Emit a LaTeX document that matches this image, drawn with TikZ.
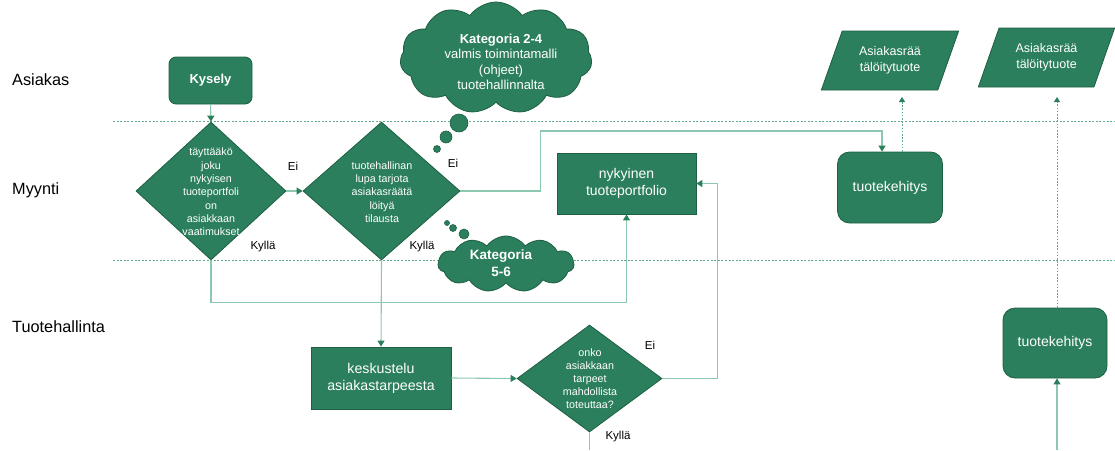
\documentclass[tikz,border=0pt]{standalone}
\usepackage{fontspec}
\setmainfont{Liberation Sans}
\usetikzlibrary{shapes.geometric,shapes.symbols,arrows.meta,calc}

\definecolor{boxgreen}{RGB}{43,127,92}
\definecolor{edgegreen}{RGB}{30,95,68}
\definecolor{linkgreen}{RGB}{140,200,175}
\definecolor{lanegreen}{RGB}{100,170,140}

\tikzset{
  shapebase/.style={fill=boxgreen, draw=edgegreen, line width=0.8pt, text=white,
    align=center, inner sep=0pt},
  roundbox/.style={shapebase, rounded corners=#1},
  squarebox/.style={shapebase},
  decision/.style={shapebase, diamond},
  slanted/.style={shapebase, trapezium, trapezium stretches=true,
    trapezium left angle=64, trapezium right angle=116},
  thought/.style={shapebase, cloud, cloud puffs=11, cloud puff arc=110,
    cloud ignores aspect},
  bubble/.style={shapebase, circle, line width=0.6pt},
  intext/.style={text=white, align=center, inner sep=0pt},
  smalltext/.style={intext, font=\fontsize{10.7}{13.3}\selectfont},
  lanelabel/.style={anchor=west, inner sep=0pt, font=\fontsize{16.3}{19}\selectfont},
  answer/.style={inner sep=0pt, font=\fontsize{11.5}{14}\selectfont},
  lane/.style={lanegreen, line width=0.8pt, dash pattern=on 2pt off 1.6pt},
  conn/.style={linkgreen, line width=1.1pt,
    -{Triangle[width=7pt,length=6pt,color=boxgreen]}},
  plainconn/.style={linkgreen, line width=1.1pt},
  dotconn/.style={lanegreen, line width=1pt, dash pattern=on 1.6pt off 1.6pt,
    -{Triangle[width=6pt,length=5pt,color=boxgreen]}},
}

\begin{document}
\begin{tikzpicture}[x=1pt,y=-1pt]
  \useasboundingbox (0,0) rectangle (1115,450);

  % swimlane separators
  \coordinate (laneTopL) at (113,121);
  \coordinate (laneTopR) at (1115,121);
  \coordinate (laneBotL) at (113,260);
  \coordinate (laneBotR) at (1115,260);
  \draw[lane] (laneTopL) -- (laneTopR);
  \draw[lane] (laneBotL) -- (laneBotR);

  % swimlane labels
  \node[lanelabel] (laneA) at (12,80) {Asiakas};
  \node[lanelabel] (laneM) at (12,190) {Myynti};
  \node[lanelabel] (laneT) at (12,327) {Tuotehallinta};

  % customer lane
  \node[roundbox=7pt, minimum width=83pt, minimum height=47pt,
        font=\bfseries\fontsize{13}{16}\selectfont] (kysely) at (210.5,80.5) {Kysely};

  % decisions in the sales lane
  \node[decision, minimum width=150pt, minimum height=138pt] (d1) at (211,191) {};
  \node[smalltext] (d1t) at (211,192) {täyttääkö\\joku\\nykyisen\\tuoteportfoli\\on\\asiakkaan\\vaatimukset};
  \node[decision, minimum width=157pt, minimum height=138pt] (d2) at (381.5,191) {};
  \node[smalltext] (d2t) at (382,192) {tuotehallinan\\lupa tarjota\\asiakasräätä\\löityä\\tilausta};

  \node[squarebox, minimum width=139pt, minimum height=61pt,
        font=\fontsize{14}{17}\selectfont] (nyk) at (626.5,183.5) {nykyinen\\tuoteportfolio};

  % thought clouds
  \node[thought, minimum width=192pt, minimum height=112pt] (c1) at (496,58) {};
  \node[intext, font=\fontsize{13}{15.5}\selectfont] (c1t) at (501,62)
    {\textbf{Kategoria 2-4}\\valmis toimintamalli\\(ohjeet)\\tuotehallinnalta};
  \node[bubble, minimum size=18pt] (b11) at (459,123) {};
  \node[bubble, minimum size=12pt] (b12) at (446,137) {};
  \node[bubble, minimum size=7pt] (b13) at (437,149) {};

  \node[thought, minimum width=136pt, minimum height=56pt] (c2) at (506,264) {};
  \node[intext, font=\bfseries\fontsize{13.5}{17}\selectfont] (c2t) at (501,263) {Kategoria\\5-6};
  \node[bubble, minimum size=10pt] (b21) at (464,234) {};
  \node[bubble, minimum size=7pt] (b22) at (453,228) {};
  \node[bubble, minimum size=5pt] (b23) at (447,223) {};

  % product management lane
  \node[squarebox, minimum width=140pt, minimum height=62pt,
        font=\fontsize{14.2}{17}\selectfont] (kesk) at (381,378) {keskustelu\\asiakastarpeesta};
  \node[decision, minimum width=145pt, minimum height=107pt] (d3) at (589.5,378.5) {};
  \node[smalltext, font=\fontsize{10.7}{13}\selectfont] (d3t) at (590,379)
    {onko\\asiakkaan\\tarpeet\\mahdollista\\toteuttaa?};

  % product development
  \node[roundbox=12pt, minimum width=105pt, minimum height=71pt,
        font=\fontsize{14}{17}\selectfont] (tk1) at (890,187.5) {tuotekehitys};
  \node[roundbox=12pt, minimum width=104pt, minimum height=70pt,
        font=\fontsize{14}{17}\selectfont] (tk2) at (1055,343) {tuotekehitys};

  % outputs
  \node[slanted, minimum width=138pt, minimum height=59pt,
        font=\fontsize{12.5}{16}\selectfont] (out1) at (890,60.5) {Asiakasrää\\tälöitytuote};
  \node[slanted, minimum width=137pt, minimum height=59pt,
        font=\fontsize{12.5}{16}\selectfont] (out2) at (1046.5,57.5) {Asiakasrää\\tälöitytuote};

  % answer labels
  \node[answer] (ei1) at (293,166) {Ei};
  \node[answer] (ky1) at (263,247) {Kyllä};
  \node[answer] (ei2) at (453,163) {Ei};
  \node[answer] (ky2) at (422,247) {Kyllä};
  \node[answer] (ei3) at (650,345) {Ei};
  \node[answer] (ky3) at (618,437) {Kyllä};

  % connectors
  \draw[conn] (kysely.south) -- (d1.north);
  \draw[conn] (d1.east) -- (d2.west);
  \draw[conn] (d1.south) -- ++(0,42) -| (nyk.south);
  \draw[conn] (d2.south) -- (kesk.north);
  \draw[conn] (d2.east) -- ++(80,0) -- ++(0,-60) -| ([xshift=-8pt]tk1.north);
  \draw[conn] (kesk.east) -- (d3.west);
  \draw[conn] (d3.east) -- ++(55,0) |- (nyk.east);
  \coordinate (d3out) at ($(d3.south)+(0,18)$);
  \draw[plainconn] (d3.south) -- (d3out);

  \draw[dotconn] ([xshift=12pt]tk1.north) -- ([xshift=12pt]tk1.north |- 0,97);
  \draw[dotconn] ([xshift=2pt]tk2.north) -- ([xshift=2pt]tk2.north |- 0,97);
  \coordinate (tk2in) at ($(tk2.south)+(2,72)$);
  \draw[conn] (tk2in) -- ([xshift=2pt]tk2.south);
\end{tikzpicture}
\end{document}
